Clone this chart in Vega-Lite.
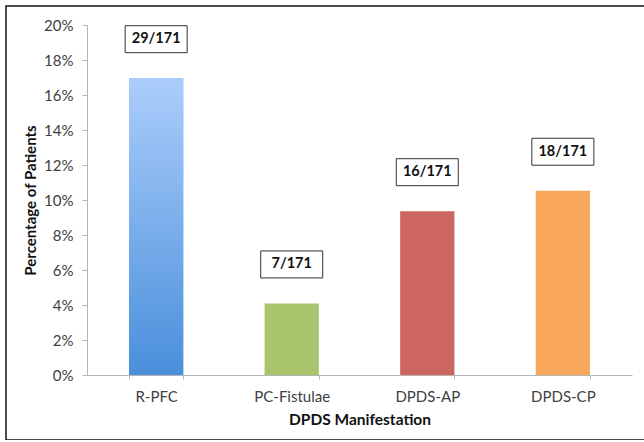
{
  "$schema": "https://vega.github.io/schema/vega-lite/v6.json",
  "autosize": {"type": "none"},
  "padding": {"left": 6, "top": 6, "right": 0, "bottom": 0},
  "width": 700,
  "height": 434,
  "background": "white",
  "data": {
    "values": [
      {"manifestation": "R-PFC", "pct": 0.1696, "label": "29/171"},
      {"manifestation": "PC-Fistulae", "pct": 0.0409, "label": "7/171"},
      {"manifestation": "DPDS-AP", "pct": 0.0936, "label": "16/171"},
      {"manifestation": "DPDS-CP", "pct": 0.1053, "label": "18/171"}
    ]
  },
  "encoding": {
    "x": {
      "field": "manifestation",
      "type": "nominal",
      "sort": null,
      "scale": {"range": [81, 626], "paddingInner": 0.6, "paddingOuter": 0.31},
      "axis": {
        "title": "DPDS Manifestation",
        "offset": -65,
        "labelAngle": 0,
        "labelFontSize": 15,
        "labelColor": "#404040",
        "labelPadding": 10,
        "tickBand": "extent",
        "tickSize": 4,
        "tickColor": "#b5b5b5",
        "domainColor": "#b5b5b5",
        "titleFontSize": 15.5,
        "titleFontWeight": "bold",
        "titleColor": "#111111",
        "titlePadding": 8
      }
    },
    "y": {
      "field": "pct",
      "type": "quantitative",
      "scale": {"domain": [0, 0.2], "range": [369, 19], "nice": false},
      "axis": {
        "title": "Percentage of Patients",
        "offset": -81,
        "values": [0, 0.02, 0.04, 0.06, 0.08, 0.1, 0.12, 0.14, 0.16, 0.18, 0.2],
        "format": ".0%",
        "grid": false,
        "labelFontSize": 15,
        "labelColor": "#404040",
        "labelPadding": 9,
        "tickSize": 5,
        "tickColor": "#b5b5b5",
        "domainColor": "#b5b5b5",
        "titleFontSize": 15,
        "titleFontWeight": "bold",
        "titleColor": "#111111",
        "titlePadding": 5
      }
    }
  },
  "layer": [
    {
      "mark": {"type": "bar"},
      "encoding": {
        "color": {
          "field": "manifestation",
          "type": "nominal",
          "legend": null,
          "scale": {
            "domain": ["R-PFC", "PC-Fistulae", "DPDS-AP", "DPDS-CP"],
            "range": ["#7aaeeb", "#a8c46c", "#cd6660", "#f8a65a"]
          }
        }
      }
    },
    {
      "transform": [{"filter": "datum.manifestation === 'R-PFC'"}],
      "mark": {
        "type": "bar",
        "color": {
          "gradient": "linear",
          "x1": 0, "y1": 0, "x2": 0, "y2": 1,
          "stops": [
            {"offset": 0, "color": "#abcdfb"},
            {"offset": 1, "color": "#4a8fdb"}
          ]
        }
      }
    },
    {
      "mark": {
        "type": "point",
        "shape": "M-1,-0.435H1V0.435H-1Z",
        "size": 3844,
        "filled": false,
        "fill": "white",
        "fillOpacity": 1,
        "stroke": "#333333",
        "strokeWidth": 1,
        "opacity": 1,
        "yOffset": -39
      }
    },
    {
      "mark": {
        "type": "text",
        "font": "Lato",
        "fontSize": 14.5,
        "fontWeight": "bold",
        "color": "#111111",
        "yOffset": -39,
        "baseline": "middle"
      },
      "encoding": {"text": {"field": "label"}}
    }
  ],
  "config": {
    "font": "Lato",
    "view": {"stroke": "#111111", "strokeWidth": 1.5},
    "axis": {"labelFont": "Lato", "titleFont": "Lato"}
  }
}
